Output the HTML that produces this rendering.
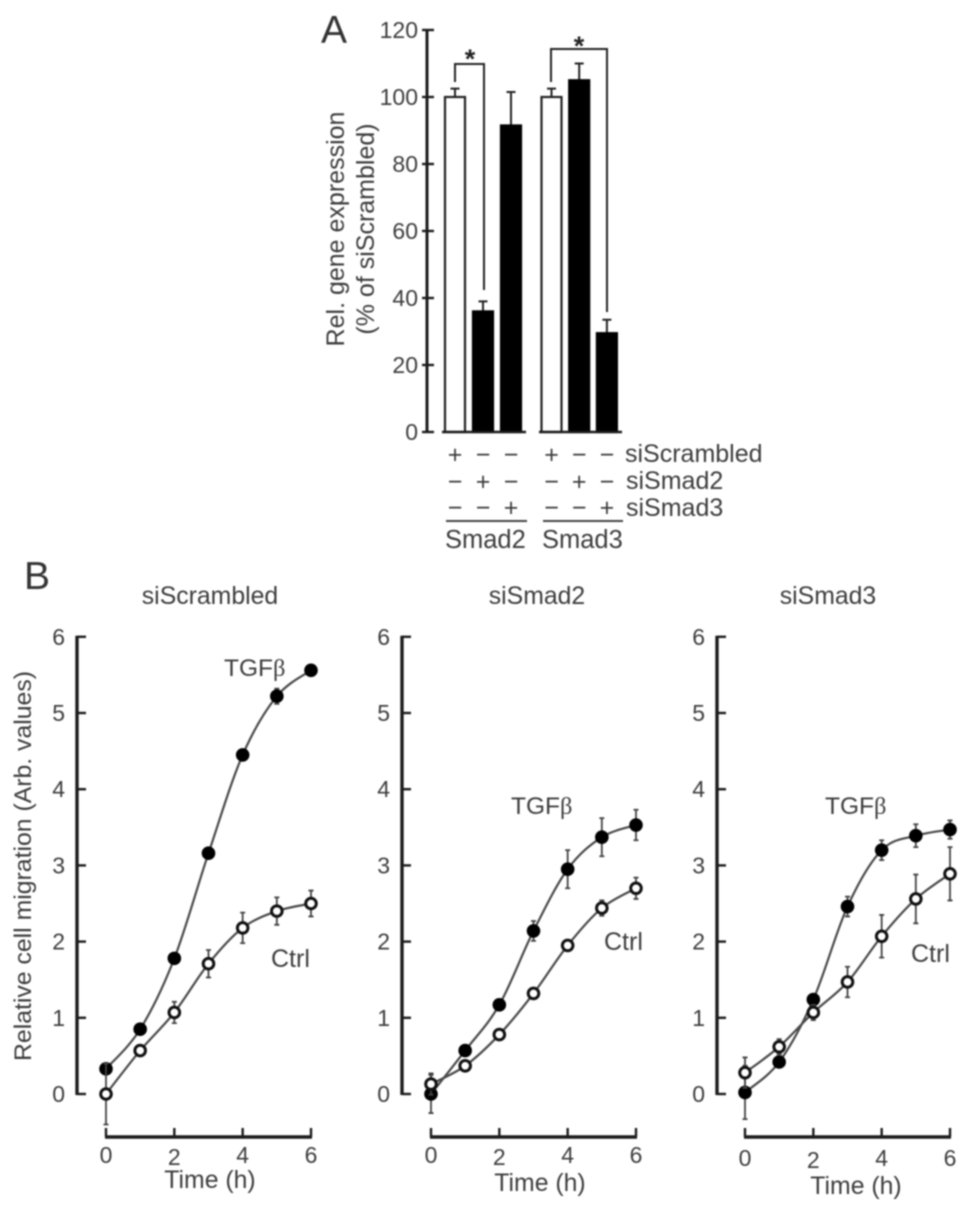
<!DOCTYPE html>
<html>
<head>
<meta charset="utf-8">
<title>Smad knockdown gene expression and cell migration</title>
<style>
html,body{margin:0;padding:0;background:#fff;}
svg{display:block;filter:blur(0.8px);}
text{font-family:"Liberation Sans",sans-serif;fill:#3d3d3d;}
</style>
</head>
<body>
<svg id="figure" xmlns="http://www.w3.org/2000/svg" width="969" height="1210" viewBox="0 0 969 1210">
  <rect x="0" y="0" width="969" height="1210" fill="#fff"/>
  <text x="321" y="43" font-size="39" style="fill:#333">A</text>
  <text x="24" y="589" font-size="39" style="fill:#333">B</text>
  <text transform="translate(344,229) rotate(-90)" text-anchor="middle" font-size="25">Rel. gene expression</text>
  <text transform="translate(374,229) rotate(-90)" text-anchor="middle" font-size="25">(% of siScrambled)</text>
  <text x="625" y="462" font-size="25">siScrambled</text>
  <text x="626" y="489" font-size="25">siSmad2</text>
  <text x="626" y="516" font-size="25">siSmad3</text>
  <line x1="446" x2="527" y1="521" y2="521" stroke="#444" stroke-width="2"/>
  <line x1="543" x2="623" y1="521" y2="521" stroke="#444" stroke-width="2"/>
  <text x="445" y="548" font-size="25.5">Smad2</text>
  <text x="542" y="548" font-size="25.5">Smad3</text>
  <path d="M455 82V64H484V290" fill="none" stroke="#222" stroke-width="2"/>
  <path d="M551 82V49H607V312" fill="none" stroke="#222" stroke-width="2"/>
  <text x="470" y="68" text-anchor="middle" font-size="27" font-weight="bold" style="fill:#222">*</text>
  <text x="579" y="55" text-anchor="middle" font-size="27" font-weight="bold" style="fill:#222">*</text>

  <text x="210" y="604" text-anchor="middle" font-size="24.8">siScrambled</text>
  <text x="537" y="604" text-anchor="middle" font-size="24.8">siSmad2</text>
  <text x="828" y="604" text-anchor="middle" font-size="24.8">siSmad3</text>
  <text transform="translate(31,866) rotate(-90)" text-anchor="middle" font-size="24.5" textLength="390" lengthAdjust="spacingAndGlyphs">Relative cell migration (Arb. values)</text>

  <text x="224" y="676" font-size="24.5">TGF<tspan font-family="Liberation Serif">β</tspan></text>
  <text x="271" y="967" font-size="25">Ctrl</text>
  <text x="511" y="814" font-size="24.5">TGF<tspan font-family="Liberation Serif">β</tspan></text>
  <text x="604" y="950" font-size="25">Ctrl</text>
  <text x="825" y="814" font-size="24.5">TGF<tspan font-family="Liberation Serif">β</tspan></text>
  <text x="911" y="962" font-size="25">Ctrl</text>

  <text x="210" y="1188" text-anchor="middle" font-size="24.8">Time (h)</text>
  <text x="540" y="1191" text-anchor="middle" font-size="24.8">Time (h)</text>
  <text x="856" y="1194" text-anchor="middle" font-size="24.8">Time (h)</text>
</svg>
<script>
// Panel A data
const barNames = ['smad2-scrambled', 'smad2-sismad2', 'smad2-sismad3', 'smad3-scrambled', 'smad3-sismad2', 'smad3-sismad3'];
const barValues = [100, 36, 91.5, 100, 105, 29.5];
const barErrors = [2.5, 3, 10, 2.5, 5, 4];
const barFilled = [false, true, true, false, true, true];
const barTicks = [0, 20, 40, 60, 80, 100, 120];
const signsScrambled = ['+', '−', '−', '+', '−', '−'];
const signsSmad2 = ['−', '+', '−', '−', '+', '−'];
const signsSmad3 = ['−', '−', '+', '−', '−', '+'];

// Panel B data
const hours = [0, 1, 2, 3, 4, 5, 6];
const yTicks = [0, 1, 2, 3, 4, 5, 6];
const xTicks = [0, 2, 4, 6];
const scrambledTgf = [0.33, 0.85, 1.78, 3.16, 4.45, 5.22, 5.56];
const scrambledTgfErr = [0.05, 0.04, 0.05, 0.05, 0.06, 0.1, 0.05];
const scrambledCtrl = [0, 0.57, 1.07, 1.71, 2.18, 2.4, 2.5];
const scrambledCtrlErr = [0.4, 0.05, 0.14, 0.18, 0.2, 0.18, 0.17];
const smad2Tgf = [0, 0.57, 1.17, 2.14, 2.95, 3.37, 3.53];
const smad2TgfErr = [0.25, 0.05, 0.05, 0.13, 0.25, 0.25, 0.2];
const smad2Ctrl = [0.13, 0.37, 0.78, 1.32, 1.95, 2.44, 2.7];
const smad2CtrlErr = [0.14, 0.03, 0.03, 0.03, 0.04, 0.1, 0.14];
const smad3Tgf = [0.02, 0.42, 1.24, 2.46, 3.2, 3.39, 3.47];
const smad3TgfErr = [0.35, 0.03, 0.03, 0.13, 0.13, 0.15, 0.12];
const smad3Ctrl = [0.28, 0.62, 1.07, 1.47, 2.07, 2.56, 2.89];
const smad3CtrlErr = [0.2, 0.1, 0.1, 0.2, 0.28, 0.32, 0.35];

const NS = 'http://www.w3.org/2000/svg';
const svg = document.getElementById('figure');

function make(tag, attrs, text) {
  const node = document.createElementNS(NS, tag);
  for (const k in attrs) node.setAttribute(k, attrs[k]);
  if (text !== undefined) node.textContent = text;
  svg.appendChild(node);
  return node;
}

// ---------- Panel A ----------
const barY = v => 432 - v * 3.35;
const barCenter = i => (i < 3 ? 455 + 28 * i : 551.5 + 27.7 * (i - 3));
const barWidth = 20;

const axisA = make('path', {d: 'M427 ' + barY(120) + 'V' + barY(0), fill: 'none', stroke: '#1c1c1c', 'stroke-width': 3});



barTicks.forEach(t => {
  const tick = make('line', {x1: 422, x2: 434, y1: barY(t), y2: barY(t), stroke: '#1c1c1c', 'stroke-width': 2.4});
  
  
  const label = make('text', {x: 418, y: barY(t) + 8, 'text-anchor': 'end', 'font-size': 23}, String(t));
  
  
});

barValues.forEach((v, i) => {
  const cx = barCenter(i);
  const errLine = make('path', {d: 'M' + cx + ' ' + barY(v) + 'V' + barY(v + barErrors[i]) + 'M' + (cx - 4.5) + ' ' + barY(v + barErrors[i]) + 'H' + (cx + 4.5), fill: 'none', stroke: '#222', 'stroke-width': 2});
  
  
  const bar = make('rect', {x: cx - barWidth / 2, y: barY(v), width: barWidth, height: barY(0) - barY(v), fill: barFilled[i] ? '#000' : '#fff', stroke: barFilled[i] ? '#000' : '#222', 'stroke-width': 2.2});
  
  
});

const baseline1 = make('line', {x1: 442, x2: 526, y1: barY(0), y2: barY(0), stroke: '#1c1c1c', 'stroke-width': 2.4});


const baseline2 = make('line', {x1: 539, x2: 622, y1: barY(0), y2: barY(0), stroke: '#1c1c1c', 'stroke-width': 2.4});



function drawSigns(signs, y, rowName) {
  signs.forEach((s, i) => {
    const sign = make('text', {x: barCenter(i), y: y, 'text-anchor': 'middle', 'font-size': 25}, s);
    
    
  });
}
drawSigns(signsScrambled, 463, 'scrambled');
drawSigns(signsSmad2, 490, 'smad2');
drawSigns(signsSmad3, 516, 'smad3');

// ---------- Panel B ----------
function smoothPath(xs, ys) {
  let d = 'M' + xs[0] + ' ' + ys[0];
  for (let i = 0; i < xs.length - 1; i++) {
    const x0 = xs[Math.max(i - 1, 0)], y0 = ys[Math.max(i - 1, 0)];
    const x3 = xs[Math.min(i + 2, xs.length - 1)], y3 = ys[Math.min(i + 2, xs.length - 1)];
    const c1x = xs[i] + (xs[i + 1] - x0) / 6, c1y = ys[i] + (ys[i + 1] - y0) / 6;
    const c2x = xs[i + 1] - (x3 - xs[i]) / 6, c2y = ys[i + 1] - (y3 - ys[i]) / 6;
    d += 'C' + c1x + ' ' + c1y + ' ' + c2x + ' ' + c2y + ' ' + xs[i + 1] + ' ' + ys[i + 1];
  }
  return d;
}

function drawSeries(sx, sy, values, errs, filled, prefix) {
  const xs = hours.map(sx);
  const ys = values.map(sy);
  values.forEach((v, i) => {
    const hi = sy(v + errs[i]), lo = sy(v - errs[i]), x = sx(hours[i]);
    const err = make('path', {d: 'M' + x + ' ' + hi + 'V' + lo + 'M' + (x - 2.5) + ' ' + hi + 'H' + (x + 2.5) + 'M' + (x - 2.5) + ' ' + lo + 'H' + (x + 2.5), fill: 'none', stroke: '#444', 'stroke-width': 1.8});
    
    
  });
  const line = make('path', {d: smoothPath(xs, ys), fill: 'none', stroke: '#4a4a4a', 'stroke-width': 2.2});
  
  
  values.forEach((v, i) => {
    const point = make('circle', {cx: xs[i], cy: ys[i], r: filled ? 6.8 : 5.3, fill: filled ? '#000' : '#fff', stroke: filled ? 'none' : '#111', 'stroke-width': filled ? 0 : 3});
    
    
  });
}

function drawChart(opts) {
  const sx = t => opts.x0 + t * (opts.x6 - opts.x0) / 6;
  const sy = v => 1094 - v * 76.2;
  const yAxis = make('line', {x1: opts.axisX, x2: opts.axisX, y1: sy(6) - 1, y2: sy(0) + 1, stroke: '#1c1c1c', 'stroke-width': 3.4});
  
  
  yTicks.forEach(t => {
    const tick = make('line', {x1: opts.axisX, x2: opts.axisX + 9, y1: sy(t), y2: sy(t), stroke: '#1c1c1c', 'stroke-width': 2.4});
    
    
    const label = make('text', {x: opts.axisX - 12, y: sy(t) + 8, 'text-anchor': 'end', 'font-size': 23}, String(t));
    
    
  });
  const xAxis = make('line', {x1: sx(0) - 1, x2: sx(6) + 1, y1: 1137, y2: 1137, stroke: '#1c1c1c', 'stroke-width': 3.4});
  
  
  xTicks.forEach((t, i) => {
    const tick = make('line', {x1: sx(t), x2: sx(t), y1: 1128, y2: 1137, stroke: '#1c1c1c', 'stroke-width': 2.4});
    
    
    const label = make('text', {x: sx(t), y: opts.tickY + (i === 1 ? 2 : 0), 'text-anchor': 'middle', 'font-size': 23}, String(t));
    
    
  });
  drawSeries(sx, sy, opts.tgf, opts.tgfErr, true, opts.name + '-tgf');
  drawSeries(sx, sy, opts.ctrl, opts.ctrlErr, false, opts.name + '-ctrl');
}

drawChart({name: 'siscrambled', axisX: 77, x0: 106, x6: 311, tickY: 1163, tgf: scrambledTgf, tgfErr: scrambledTgfErr, ctrl: scrambledCtrl, ctrlErr: scrambledCtrlErr});
drawChart({name: 'sismad2', axisX: 402, x0: 431, x6: 636, tickY: 1163, tgf: smad2Tgf, tgfErr: smad2TgfErr, ctrl: smad2Ctrl, ctrlErr: smad2CtrlErr});
drawChart({name: 'sismad3', axisX: 717, x0: 745, x6: 950, tickY: 1166, tgf: smad3Tgf, tgfErr: smad3TgfErr, ctrl: smad3Ctrl, ctrlErr: smad3CtrlErr});
</script>
</body>
</html>
